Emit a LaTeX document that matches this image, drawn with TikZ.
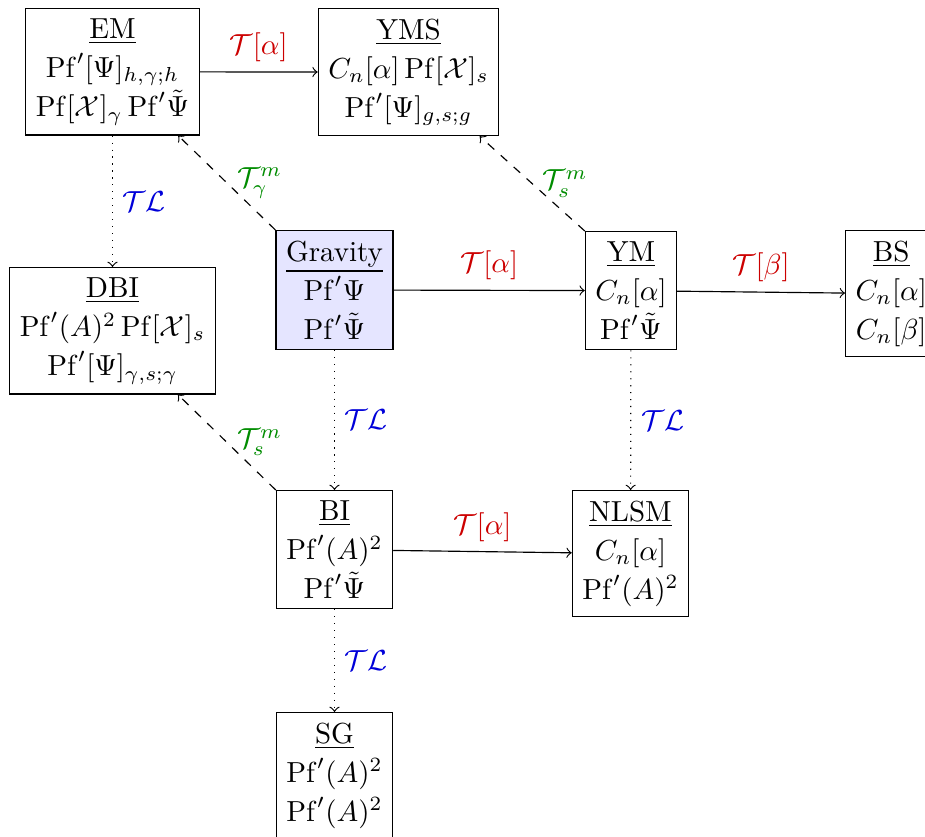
\documentclass[tikz,border=0pt]{standalone}
\usepackage{amsmath}
\begin{document}
\begin{tikzpicture}[x=0.3448pt,y=-0.3448pt,
  box/.style={draw,align=center,font=\fontsize{10pt}{13.5pt}\selectfont,inner sep=3.45pt},
  grav/.style={box,fill=blue!10},
  tarrow/.style={->},
  tlarrow/.style={->,dotted},
  tmarrow/.style={->,dashed},
  redlab/.style={text=red!80!black},
  bluelab/.style={text=blue!85!black},
  greenlab/.style={text=green!55!black}]
\useasboundingbox (0,0) rectangle (925,836);
\clip (0,0) rectangle (925,836);
\node[box,anchor=north] (EM) at (112.5,8) {\underline{EM}\\ $\mathrm{Pf}'[\Psi]_{h,\gamma;h}$\\ $\mathrm{Pf}[\mathcal{X}]_\gamma\,\mathrm{Pf}'\tilde{\Psi}$};
\node[box,anchor=north] (YMS) at (408.5,8) {\underline{YMS}\\ $C_n[\alpha]\,\mathrm{Pf}[\mathcal{X}]_s$\\ $\mathrm{Pf}'[\Psi]_{g,s;g}$};
\node[box,anchor=north] (DBI) at (112.5,267) {\underline{DBI}\\ $\mathrm{Pf}'(A)^2\,\mathrm{Pf}[\mathcal{X}]_s$\\ $\mathrm{Pf}'[\Psi]_{\gamma,s;\gamma}$};
\node[grav,anchor=north] (GR) at (334.5,230) {\underline{Gravity}\\ $\mathrm{Pf}'\Psi$\\ $\mathrm{Pf}'\tilde{\Psi}$};
\node[box,anchor=north] (YM) at (631,231) {\underline{YM}\\ $C_n[\alpha]$\\ $\mathrm{Pf}'\tilde{\Psi}$};
\node[box,anchor=north west] (BS) at (845,230) {\underline{BS}\\ $C_n[\alpha]$\\ $C_n[\beta]$};
\node[box,anchor=north] (BI) at (334.5,490) {\underline{BI}\\ $\mathrm{Pf}'(A)^2$\\ $\mathrm{Pf}'\tilde{\Psi}$};
\node[box,anchor=north] (NLSM) at (630.5,490) {\underline{NLSM}\\ $C_n[\alpha]$\\ $\mathrm{Pf}'(A)^2$};
\node[box,anchor=north] (SG) at (334.5,712) {\underline{SG}\\ $\mathrm{Pf}'(A)^2$\\ $\mathrm{Pf}'(A)^2$};
% T[alpha] arrows
\draw[tarrow] (EM) -- node[above,redlab] {$\mathcal{T}[\alpha]$} (YMS);
\draw[tarrow] (GR) -- node[above,redlab] {$\mathcal{T}[\alpha]$} (YM);
\draw[tarrow] (YM) -- node[above,redlab] {$\mathcal{T}[\beta]$} (BS);
\draw[tarrow] (BI) -- node[above,redlab] {$\mathcal{T}[\alpha]$} (NLSM);
% TL arrows
\draw[tlarrow] (EM) -- node[right,bluelab] {$\mathcal{TL}$} (DBI);
\draw[tlarrow] (GR) -- node[right,bluelab] {$\mathcal{TL}$} (BI);
\draw[tlarrow] (YM) -- node[right,bluelab] {$\mathcal{TL}$} (NLSM);
\draw[tlarrow] (BI) -- node[right,bluelab] {$\mathcal{TL}$} (SG);
% T^m arrows
\draw[tmarrow] (GR.north west) -- node[right,greenlab] {$\mathcal{T}^m_\gamma$} (EM);
\draw[tmarrow] (YM.north west) -- node[right,greenlab] {$\mathcal{T}^m_s$} (YMS);
\draw[tmarrow] (BI.north west) -- node[right,greenlab] {$\mathcal{T}^m_s$} (DBI);
\end{tikzpicture}
\end{document}
